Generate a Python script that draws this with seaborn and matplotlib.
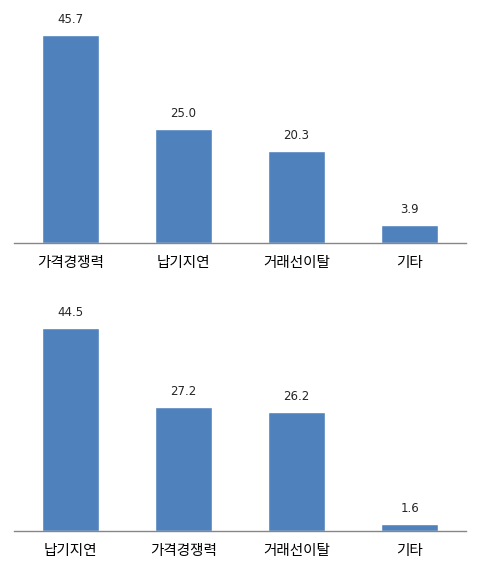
import matplotlib
matplotlib.use("Agg")
import matplotlib.pyplot as plt
import seaborn as sns
import pandas as pd

cats_top = ["가격경쟁력", "납기지연", "거래선이탈", "기타"]
vals_top = [45.7, 25.0, 20.3, 3.9]
cats_bot = ["납기지연", "가격경쟁력", "거래선이탈", "기타"]
vals_bot = [44.5, 27.2, 26.2, 1.6]

sns.set_style("white")
plt.rcParams['font.family'] = ['Noto Sans CJK KR', 'DejaVu Sans']

fig = plt.figure(figsize=(4.8, 5.76), dpi=100)
ax1 = fig.add_axes([0.029, 0.578, 0.942, 0.411])
ax2 = fig.add_axes([0.029, 0.078, 0.942, 0.411])

for ax, cats, vals in [(ax1, cats_top, vals_top), (ax2, cats_bot, vals_bot)]:
    df = pd.DataFrame({"c": cats, "v": vals})
    sns.barplot(data=df, x="c", y="v", ax=ax, color="#4F81BD", saturation=1, width=0.5)
    ax.set_ylim(0, 52)
    ax.set_xlim(-0.5, 3.5)
    ax.set_xlabel("")
    ax.set_ylabel("")
    ax.set_yticks([])
    for s in ["top", "left", "right"]:
        ax.spines[s].set_visible(False)
    ax.spines["bottom"].set_color("#868686")
    ax.spines["bottom"].set_linewidth(1)
    ax.tick_params(axis="x", length=0, labelsize=10.5, pad=9, colors="black")
    for i, v in enumerate(vals):
        ax.text(i, v + 2.0, f"{v:.1f}", ha="center", va="bottom", fontsize=8.5,
                family=['DejaVu Sans'])

fig.savefig("out.png", dpi=100)
